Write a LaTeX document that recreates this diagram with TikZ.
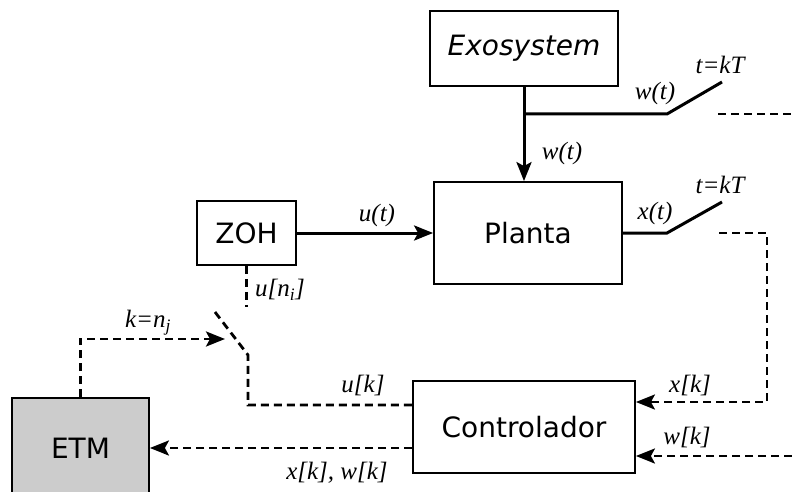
\documentclass[tikz,border=0pt]{standalone}
\usepackage{fontspec}
\usetikzlibrary{arrows.meta,positioning}
\newfontfamily\blockfont{DejaVu Sans}
\newfontfamily\sigfont{Liberation Serif}
\definecolor{etmgray}{HTML}{CCCCCC}

\tikzset{
  block/.style = {draw, line width=1.8pt, font=\blockfont\fontsize{28}{32}\selectfont,
                  inner sep=0pt},
  sig/.style = {line width=3pt},
  dsig/.style = {line width=2.8pt, dash pattern=on 8pt off 5pt},
  tip/.style = {-{Stealth[length=19pt,width=15pt,inset=4pt]}},
  lbl/.style = {font=\sigfont\itshape\fontsize{25}{28}\selectfont, inner sep=0pt}
}

\begin{document}
\begin{tikzpicture}[x=1pt, y=-1pt]

	\useasboundingbox (0, 0) rectangle (792, 492);

	% blocks
	\node[block, minimum width=188pt, minimum height=75pt] (exo) at (524, 48.5) {\itshape Exosystem};
	\node[block, minimum width=188pt, minimum height=102pt] (plant) at (528, 233) {Planta};
	\node[block, minimum width=99pt, minimum height=64pt] (zoh) at (246.5, 233) {ZOH};
	\node[block, minimum width=222pt, minimum height=92pt] (ctrl) at (524, 427) {Controlador};
	\node[block, fill=etmgray, minimum width=137pt, minimum height=100pt] (etm) at (80.5, 448) {ETM};

	% switch points
	\coordinate (wjoin) at (524, 114);
	\coordinate (wsw) at (667, 114);
	\coordinate (wswend) at (722, 82);
	\coordinate (wout) at (718, 114);
	\coordinate (wedge) at (792, 114);
	\coordinate (xsw) at (667, 233);
	\coordinate (xswend) at (722, 202);
	\coordinate (xout) at (719, 233);
	\coordinate (xturn) at (767, 233);
	\coordinate (xkin) at (767, 402);
	\coordinate (wkin) at (792, 456);
	\coordinate (zohin) at (248, 307);
	\coordinate (usw) at (215, 312);
	\coordinate (uswend) at (248, 355);
	\coordinate (ukin) at (248, 405);
	\coordinate (etmup) at (80.5, 339);
	\coordinate (ctrlarr) at (225, 339);

	% continuous signals
	\draw[sig, tip] (exo.south) -- (exo.south |- plant.north);
	\draw[sig] (wjoin) -- (wsw) -- (wswend);
	\draw[sig, tip] (zoh.east) -- (plant.west);
	\draw[sig] (plant.east) -- (xsw) -- (xswend);

	% sampled signals
	\draw[dsig] (wout) -- (wedge);
	\draw[dsig, tip] (xout) -- (xturn) -- (xkin) -- (xkin -| ctrl.east);
	\draw[dsig, tip] (wkin) -- (wkin -| ctrl.east);
	\draw[dsig] (zoh.south) -- (zoh.south |- zohin);
	\draw[dsig] (usw) -- (uswend) -- (ukin) -- (ukin -| ctrl.west);
	\draw[dsig, tip] (etm.north) -- (etmup) -- (ctrlarr);
	\draw[dsig, tip] (etm.east -| ctrl.west) -- (etm.east);

	% labels
	\node[lbl] at (655, 93) {w(t)};
	\node[lbl] at (720, 65) {t=kT};
	\node[lbl] at (562, 153) {w(t)};
	\node[lbl] at (377, 215) {u(t)};
	\node[lbl] at (655, 213) {x(t)};
	\node[lbl] at (720, 185) {t=kT};
	\node[lbl] at (280, 290) {u[n\textsubscript{i}]};
	\node[lbl] at (148, 323) {k=n\textsubscript{j}};
	\node[lbl] at (363, 385) {u[k]};
	\node[lbl] at (690, 385) {x[k]};
	\node[lbl] at (687, 437) {w[k]};
	\node[lbl] at (337, 473) {x[k], w[k]};

\end{tikzpicture}
\end{document}
